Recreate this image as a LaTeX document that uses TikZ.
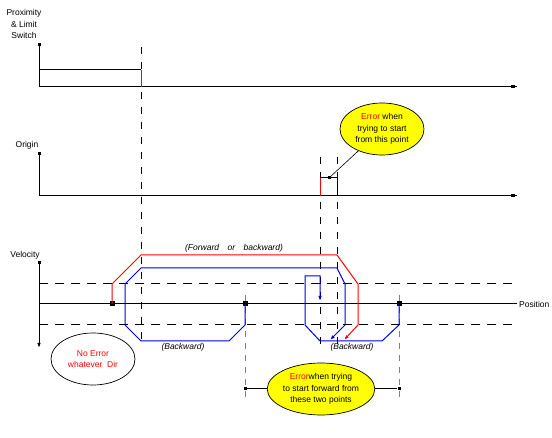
\documentclass[tikz,border=0pt]{standalone}
\usepackage{fontspec}
\setmainfont{Liberation Sans}
\usepackage{tikz}
\usetikzlibrary{shapes.geometric, arrows.meta, positioning, calc}
\definecolor{sigred}{RGB}{255, 0, 0}
\definecolor{sigblue}{RGB}{0, 0, 230}
\definecolor{guidegrey}{RGB}{128, 128, 128}
\definecolor{noteyellow}{RGB}{255, 255, 0}

\begin{document}
\begin{tikzpicture}[
    x=1pt, y=-1pt,
    every node/.style={font=\fontsize{8.5}{11.7}\selectfont, inner sep=0pt},
    axis/.style={line width=1pt, black},
    guide/.style={line width=1pt, black, dash pattern=on 9pt off 7pt},
    greyguide/.style={line width=1pt, guidegrey, dash pattern=on 6pt off 6pt},
    redpath/.style={line width=1pt, sigred},
    bluepath/.style={line width=1pt, sigblue},
    tip/.style={-{Latex[length=5pt, width=3.5pt]}},
    dot/.style={rectangle, fill=black, minimum size=5pt},
    tick/.style={rectangle, fill=black, minimum size=3pt},
    note/.style={ellipse, draw=black, line width=0.7pt, fill=noteyellow, align=center, minimum width=84pt, minimum height=52pt},
    lbl/.style={align=center},
    remark/.style={font=\fontsize{8.5}{10}\selectfont\itshape}
]
\useasboundingbox (0,0) rectangle (552,438);

% Dashed markers (behind the signals)
\draw[guide, dash pattern=on 7pt off 8pt] (141,47) -- (141,345);
\draw[guide, dash pattern=on 7pt off 8pt] (320,157) -- (320,345);
\draw[guide, dash pattern=on 7pt off 8pt] (337,157) -- (337,345);
\draw[greyguide] (245,295) -- (245,398);
\draw[greyguide] (399,295) -- (399,398);

% Row 1: Proximity & Limit Switch
\node[lbl] (proxLbl) at (24,24) {Proximity\\\& Limit\\Switch};
\node[tick] (proxTop) at (39,45) {};
\node[tick, minimum width=4pt] (proxEnd) at (513,87) {};
\coordinate (proxO) at (39,87);
\coordinate (proxX) at (517,87);
\coordinate (proxHi) at (39,70);
\coordinate (proxEdge) at (141,70);
\coordinate (proxLow) at (141,87);
\draw[axis] (proxTop.center) -- (proxO) -- (proxX);
\draw[axis] (proxHi) -- (proxEdge);
\draw[redpath] (proxEdge) -- (proxLow);

% Row 2: Origin
\node (originLbl) at (27,145) {Origin};
\node[tick] (originTop) at (39,154) {};
\node[tick, minimum width=4pt] (originEnd) at (513,196) {};
\coordinate (originO) at (39,196);
\coordinate (originX) at (517,196);
\coordinate (originUp) at (320,178);
\coordinate (originDown) at (337,178);
\draw[axis] (originTop.center) -- (originO) -- (originX);
\draw[redpath] (320,196) -- (originUp);
\draw[axis] (originUp) -- (originDown) -- (337,196);

% Row 3: Velocity
\node (velLbl) at (25,255) {Velocity};
\node[tick] (velTop) at (39,263) {};
\coordinate (velBot) at (39,348);
\coordinate (velO) at (39,304);
\coordinate (velX) at (517,304);
\node[anchor=west] (posLbl) at (519,304) {Position};
\draw[axis, tip] (velTop.center) -- (velBot);
\draw[axis] (velO) -- (velX);
\draw[guide] (39,284) -- (512,284);
\draw[guide] (39,325) -- (512,325);

% Start points
\node[dot] (dotA) at (112,304) {};
\node[dot] (dotB) at (245,304) {};
\node[dot] (dotC) at (399,304) {};

% Velocity profiles
\draw[redpath, tip] (dotA.center) -- (112,284) -- (141,255) -- (337,255) -- (358,284) -- (358,325) -- (344,340);
\draw[bluepath, tip] (dotB.center) -- (245,325) -- (229,341) -- (141,341) -- (125,325) -- (125,284) -- (141,268) -- (337,268) -- (345,284) -- (345,325) -- (330,340);
\draw[bluepath, tip] (dotC.center) -- (399,325) -- (382,341) -- (320,341) -- (305,325) -- (305,276) -- (320,276) -- (320,301);

\node[remark] (fwdLbl) at (234,248) {(Forward\quad or\quad backward)};
\node[remark] (bwdLeft) at (183,347) {(Backward)};
\node[remark] (bwdRight) at (352,347) {(Backward)};

% Notes
\node[note] (errPoint) at (382,129) {{\color{sigred}Error} when\\trying to start\\from this point};
\node[tick] (startPt) at (329,178) {};
\draw[line width=0.6pt] (errPoint) -- (startPt);

\node[note, fill=white, text=sigred] (noErr) at (93,359) {No Error\\whatever\ \ Dir};

\node[tick] (fromB) at (245,389) {};
\node[tick] (toC) at (399,389) {};
\node[note] (errTwo) at (321,389) {{\color{sigred}Error}when trying\\to start forward from\\these two points};
\draw[axis] (fromB) -- (errTwo);
\draw[axis] (errTwo) -- (toC);

\end{tikzpicture}
\end{document}
